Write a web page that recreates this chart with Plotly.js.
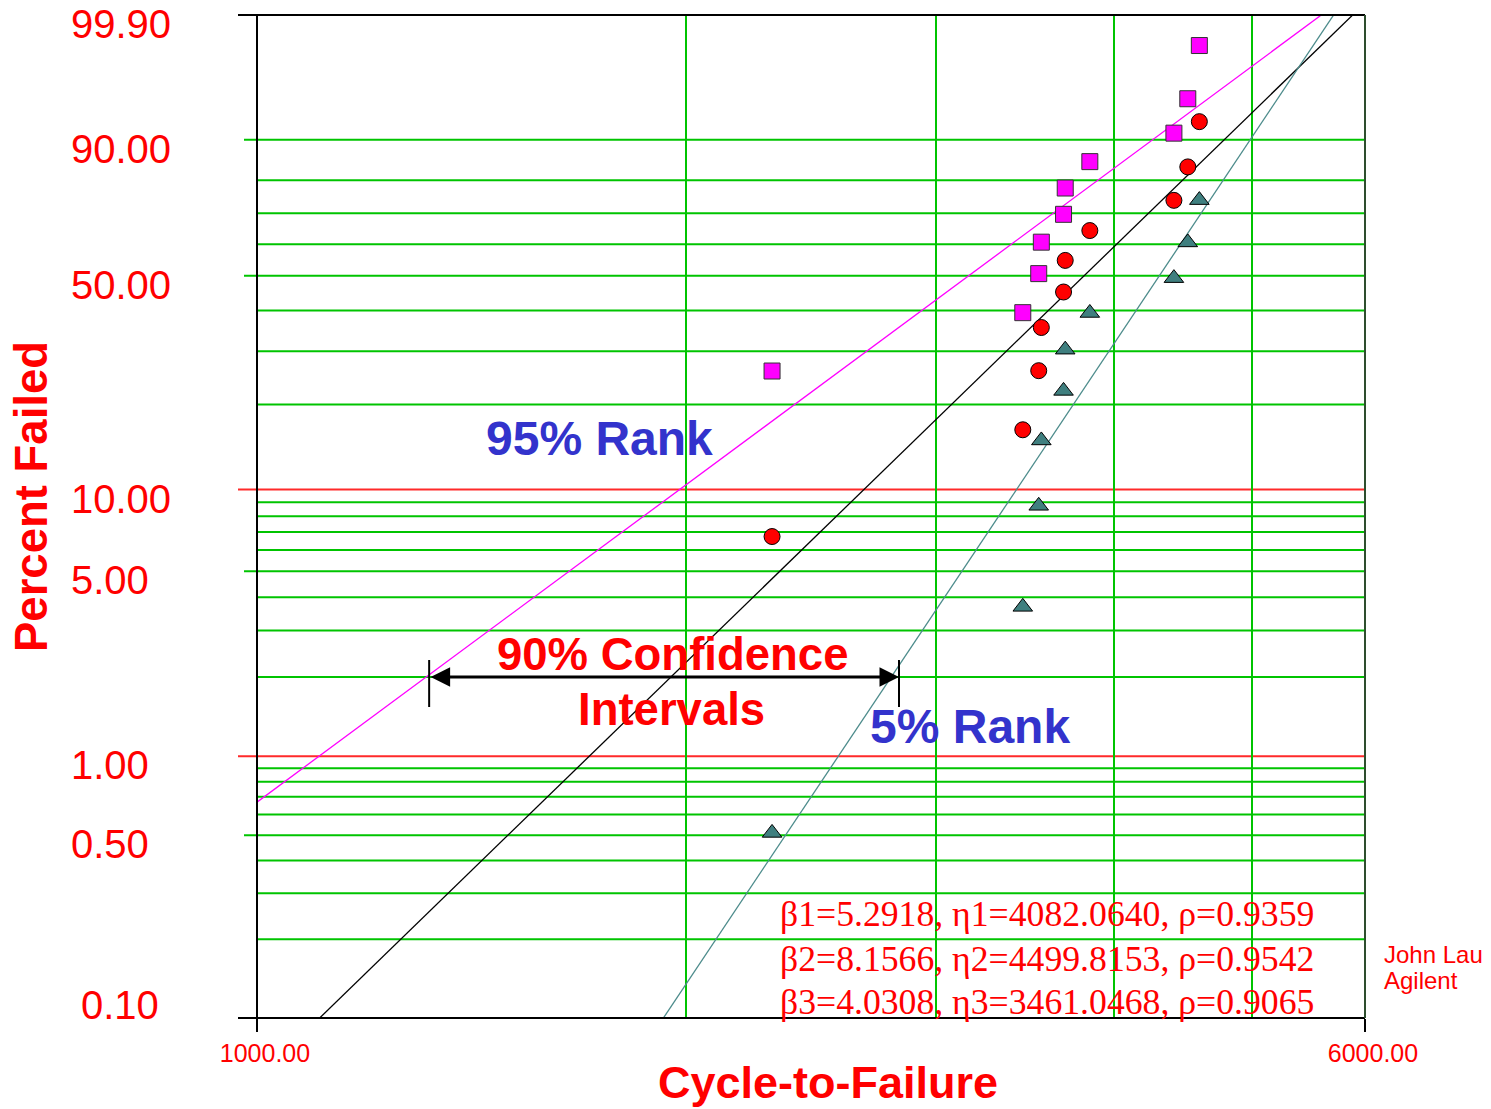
<!DOCTYPE html>
<html><head><meta charset="utf-8">
<script src="https://cdn.plot.ly/plotly-3.0.1.min.js"></script>
<style>html,body{margin:0;padding:0;background:#fff}#chart{width:1491px;height:1109px}</style>
</head><body><div id="chart"></div>
<script>
// ---- data ----
const cycles = [2300, 3450, 3540, 3555, 3685, 3695, 3845, 4405, 4505, 4590];
const rank95 = [25.89, 39.42, 50.69, 60.66, 69.65, 77.76, 85.00, 91.27, 96.32, 99.49];
const rank50 = [6.73, 16.35, 25.96, 35.58, 45.19, 54.81, 64.42, 74.04, 83.65, 93.27];
const rank5  = [0.51, 3.68, 8.73, 15.00, 22.24, 30.35, 39.34, 49.31, 60.58, 74.11];
const fitBeta = [5.2918, 8.1566, 4.0308];
const fitEta  = [4082.0640, 4499.8153, 3461.0468];
const fitRho  = [0.9359, 0.9542, 0.9065];
const fitX = [1000, 6000];
const yTickVals = [0.1, 0.5, 1, 5, 10, 50, 90, 99.9];
const yTickText = ['0.10', '0.50', '1.00', '5.00', '10.00', '50.00', '90.00', '99.90'];
const gridPct = [0.2, 0.3, 0.4, 0.5, 0.6, 0.7, 0.8, 0.9, 2, 3, 4, 5, 6, 7, 8, 9, 20, 30, 40, 50, 60, 70, 80, 90];
const redGridPct = [1, 10];
const xTickVals = [1000, 6000];
const xTickText = ['1000.00', '6000.00'];
const xGridVals = [2000, 3000, 4000, 5000];
const ciPct = 2, ciLow = 1321, ciHigh = 2824;

// ---- helpers ----
const W = p => Math.log(-Math.log(1 - p / 100));
const Wd = 1491, Hd = 1109, L = 257, R = 126, T = 15, B = 91;
const pw = Wd - L - R, ph = Hd - T - B;
const px = x => (x - L) / pw;
const py = y => (Hd - B - y) / ph;

const RED = '#ff0000', GREEN = '#00c400', BLUE = '#3333cc', MAG = '#ff00ff', TEAL = '#4d8c8c';
const SANS = 'Liberation Sans, Arial, sans-serif';
const SERIF = 'Liberation Serif, Times New Roman, serif';

const fitColors = ['#000000', TEAL, MAG];
const traces = [];
fitBeta.forEach((b, i) => {
  traces.push({
    x: fitX, y: fitX.map(x => b * (Math.log(x) - Math.log(fitEta[i]))),
    mode: 'lines', line: {color: fitColors[i], width: 1.3}, hoverinfo: 'skip', showlegend: false
  });
});
traces.push({x: cycles, y: rank95.map(W), mode: 'markers', showlegend: false,
  marker: {symbol: 'square', size: 16, color: MAG, line: {color: '#333', width: 1}}});
traces.push({x: cycles, y: rank50.map(W), mode: 'markers', showlegend: false,
  marker: {symbol: 'circle', size: 16, color: RED, line: {color: '#000', width: 1}}});
traces.push({x: cycles, y: rank5.map(W), mode: 'markers', showlegend: false,
  marker: {symbol: 'triangle-up', size: 17, color: '#3f7f7f', line: {color: '#000', width: 1}}});

const shapes = [];
gridPct.forEach(p => {
  shapes.push({type: 'line', layer: 'below', xref: 'paper', yref: 'y',
    x0: yTickVals.includes(p) ? px(244) : 0, x1: 1, y0: W(p), y1: W(p),
    line: {color: GREEN, width: 2}});
});
redGridPct.forEach(p => {
  shapes.push({type: 'line', layer: 'below', xref: 'paper', yref: 'y',
    x0: px(238), x1: 1, y0: W(p), y1: W(p), line: {color: '#ff2a2a', width: 2}});
});
// frame
shapes.push({type: 'line', xref: 'paper', yref: 'paper', x0: px(238), x1: 1, y0: 1, y1: 1, line: {color: '#000', width: 2}});
shapes.push({type: 'line', xref: 'paper', yref: 'paper', x0: px(238), x1: 1, y0: 0, y1: 0, line: {color: '#000', width: 2}});
shapes.push({type: 'line', xref: 'paper', yref: 'paper', x0: 0, x1: 0, y0: 0, y1: 1, line: {color: '#000', width: 2}});
shapes.push({type: 'line', xref: 'paper', yref: 'paper', x0: 1, x1: 1, y0: 0, y1: 1, line: {color: '#2e4e2e', width: 2}});
// CI end bars
[ciLow, ciHigh].forEach(v => {
  shapes.push({type: 'line', xref: 'x', yref: 'y', ysizemode: 'pixel', yanchor: W(ciPct),
    x0: v, x1: v, y0: -30, y1: 17, line: {color: '#000', width: 2}});
});

const annotations = [];
yTickVals.forEach((v, i) => {
  annotations.push({xref: 'paper', yref: 'y', x: px(v === 0.1 ? 79 : 69), y: W(v),
    xanchor: 'left', yanchor: 'middle', yshift: v === 0.1 ? 13 : -9, showarrow: false,
    text: yTickText[i], font: {family: SANS, size: 40, color: RED}});
});
const txt = (t, x, y, size, color, extra) => Object.assign({xref: 'paper', yref: 'paper',
  x: px(x), y: py(y), text: t, showarrow: false, xanchor: 'center', yanchor: 'middle',
  font: {family: SANS, size: size, color: color}}, extra || {});
annotations.push(txt('<b>95% Rank</b>', 599, 438, 48, BLUE));
annotations.push(txt('<b>5% Rank</b>', 970, 726, 48, BLUE));
annotations.push(txt('<b>90% Confidence</b>', 672, 654, 45.5, RED));
annotations.push(txt('<b>Intervals</b>', 671, 709, 45.5, RED));
annotations.push(txt('<b>Cycle-to-Failure</b>', 828, 1082, 45, RED));
annotations.push(txt('<b>Percent Failed</b>', 31, 497, 45.5, RED, {textangle: -90}));
annotations.push(txt('John Lau', 1382, 954, 24, RED, {xanchor: 'left'}));
annotations.push(txt('Agilent', 1382, 980, 24, RED, {xanchor: 'left'}));
const paramY = [914, 959, 1002];
fitBeta.forEach((b, i) => {
  const n = i + 1;
  annotations.push({xref: 'paper', yref: 'paper', x: px(778), y: py(paramY[i]), xanchor: 'left', yanchor: 'middle',
    showarrow: false, font: {family: SERIF, size: 35.7, color: RED},
    text: 'β' + n + '=' + b.toFixed(4) + ', η' + n + '=' + fitEta[i].toFixed(4) + ', ρ=' + fitRho[i].toFixed(4)});
});
// double arrow
annotations.push({xref: 'x', yref: 'y', axref: 'x', ayref: 'y',
  x: Math.log10(ciHigh), y: W(ciPct), ax: Math.log10(ciLow), ay: W(ciPct), text: '',
  showarrow: true, arrowside: 'end+start', arrowhead: 2, startarrowhead: 2,
  arrowsize: 1.3, startarrowsize: 1.3, arrowwidth: 3, arrowcolor: '#000', standoff: 0, startstandoff: 0});

const layout = {
  width: Wd, height: Hd, margin: {l: L, r: R, t: T, b: B},
  paper_bgcolor: '#fff', plot_bgcolor: '#fff', showlegend: false,
  xaxis: {type: 'log', range: [3, Math.log10(6000)], tickmode: 'array', tickvals: xTickVals, ticktext: xTickText,
    ticks: 'outside', ticklen: 13, tickwidth: 2, tickcolor: '#000', showgrid: false, zeroline: false, showline: false,
    ticklabelshift: 8, tickfont: {family: SANS, size: 25, color: RED},
    minor: {tickmode: 'array', tickvals: xGridVals, showgrid: true, gridcolor: GREEN, gridwidth: 2, ticks: ''}},
  yaxis: {range: [W(0.1), W(99.9)], showgrid: false, zeroline: false, showline: false, showticklabels: false, ticks: ''},
  shapes: shapes, annotations: annotations
};
Plotly.newPlot('chart', traces, layout, {displayModeBar: false, staticPlot: true});
</script></body></html>
